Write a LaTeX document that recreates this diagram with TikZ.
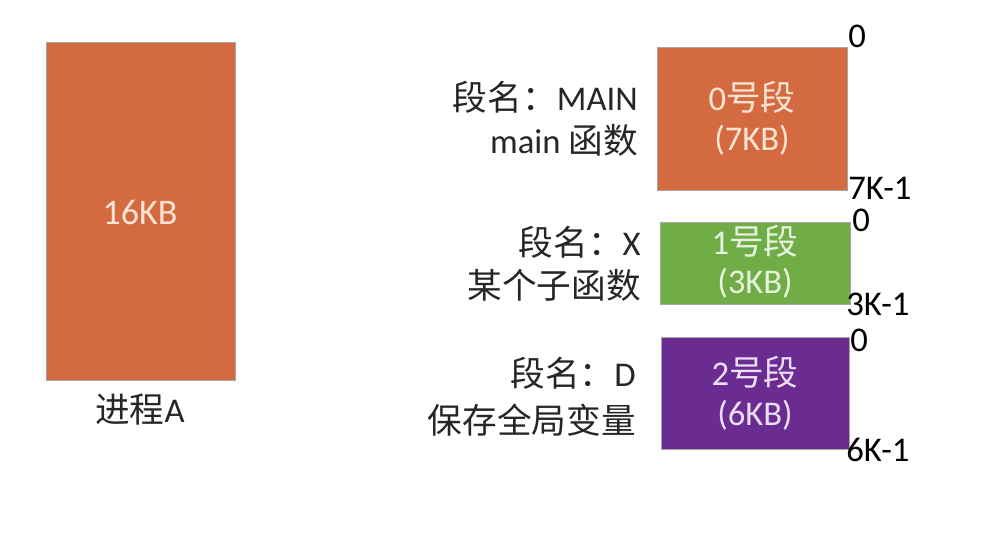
\documentclass[tikz,border=0pt]{standalone}
\usepackage{fontspec}
\setmainfont{Carlito}
\newfontfamily\cjk{Noto Sans CJK SC}
\definecolor{segorange}{HTML}{D46B40}
\definecolor{seggreen}{HTML}{70AD47}
\definecolor{segpurple}{HTML}{6A2C91}
\definecolor{txtorange}{HTML}{FBE3D4}
\definecolor{txtgreen}{HTML}{E6F3DC}
\definecolor{txtpurple}{HTML}{EBDDF5}
\definecolor{labgray}{HTML}{262626}
\tikzset{
  x=0.75pt,y=-0.75pt,
  segbox/.style={draw=gray!70, line width=0.6pt},
  intext/.style={font=\fontsize{26}{30}\selectfont, align=center, inner sep=0pt},
  sidelab/.style={font=\fontsize{26}{32}\selectfont, align=right, anchor=east, inner sep=0pt, text=labgray},
  addr/.style={font=\fontsize{26}{30}\selectfont, inner sep=0pt, text=black},
}
\begin{document}
\begin{tikzpicture}
\useasboundingbox (0,0) rectangle (1002,538);
% process A
\filldraw[segbox, fill=segorange] (46,42) rectangle (235,380);
\node[intext, text=txtorange, font=\fontsize{27}{30}\selectfont] (pa) at (140,212) {16KB};
\node[intext, text=labgray] (pal) at (140,410) {{\cjk 进程}A};
% segment 0
\filldraw[segbox, fill=segorange] (657,47) rectangle (847,190);
\node[intext, text=txtorange] (s0a) at (752,97) {0{\cjk 号段}};
\node[intext, text=txtorange] (s0b) at (752,140) {(7KB)};
\node[sidelab] (l0a) at (638,97) {{\cjk 段名：}MAIN};
\node[sidelab] (l0b) at (638,140) {main {\cjk 函数}};
\node[addr, anchor=west] (a0t) at (848,36) {0};
\node[addr, anchor=west] (a0b) at (848,188) {7K-1};
% segment 1
\filldraw[segbox, fill=seggreen] (660,222) rectangle (850,304);
\node[intext, text=txtgreen] (s1a) at (755,241) {1{\cjk 号段}};
\node[intext, text=txtgreen] (s1b) at (755,283) {(3KB)};
\node[sidelab] (l1a) at (641,242) {{\cjk 段名：}X};
\node[sidelab] (l1b) at (641,285) {{\cjk 某个子函数}};
\node[addr, anchor=west] (a1t) at (852,220) {0};
\node[addr, anchor=west] (a1b) at (846,304) {3K-1};
% segment 2
\filldraw[segbox, fill=segpurple] (661,337) rectangle (849,449);
\node[intext, text=txtpurple] (s2a) at (755,372) {2{\cjk 号段}};
\node[intext, text=txtpurple] (s2b) at (755,415) {(6KB)};
\node[sidelab] (l2a) at (636,373) {{\cjk 段名：}D};
\node[sidelab] (l2b) at (636,420) {{\cjk 保存全局变量}};
\node[addr, anchor=west] (a2t) at (850,340) {0};
\node[addr, anchor=west] (a2b) at (846,450) {6K-1};
\end{tikzpicture}
\end{document}
